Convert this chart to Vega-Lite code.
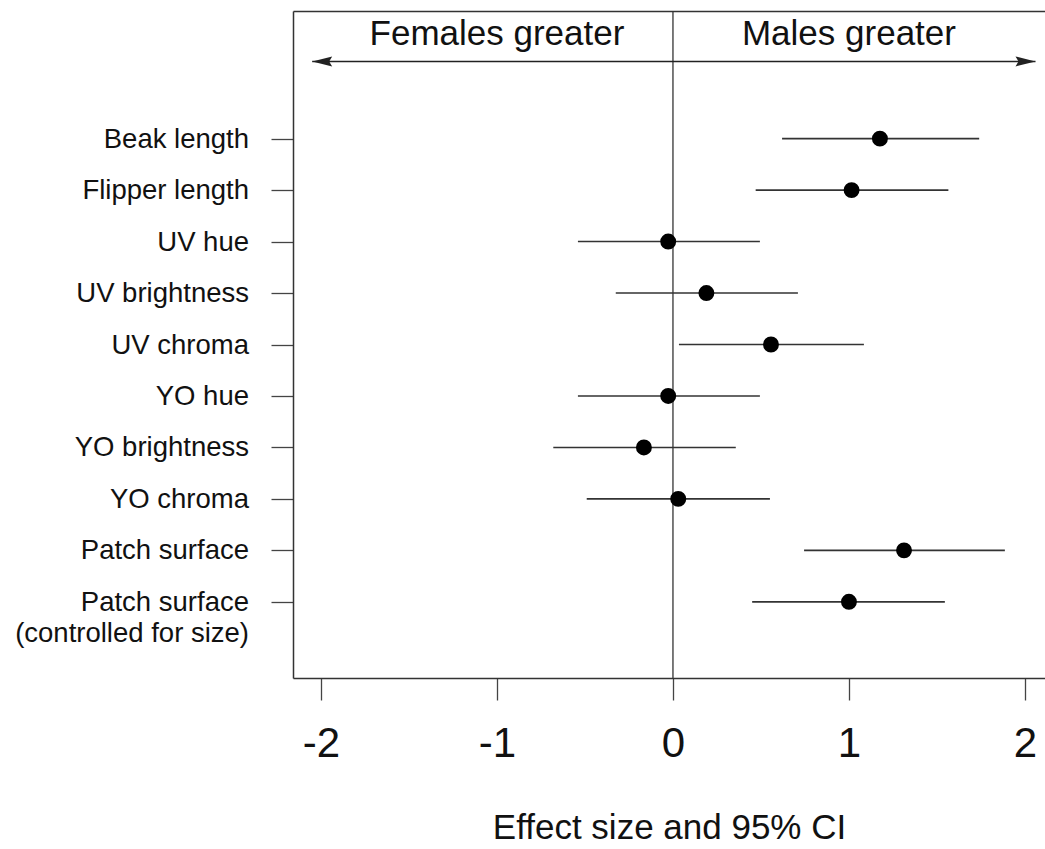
{
  "$schema": "https://vega.github.io/schema/vega-lite/v6.json",
  "autosize": {"type": "none"},
  "padding": {"left": 293, "top": 11, "right": 0, "bottom": 171},
  "width": 752,
  "height": 667,
  "background": "white",
  "config": {
    "view": {"stroke": null},
    "font": "Liberation Sans",
    "axis": {"grid": false}
  },
  "datasets": {
    "effects": [
      {"trait": "Beak length", "pos": 10, "est": 1.176, "lo": 0.62, "hi": 1.74},
      {"trait": "Flipper length", "pos": 9, "est": 1.015, "lo": 0.47, "hi": 1.565},
      {"trait": "UV hue", "pos": 8, "est": -0.027, "lo": -0.54, "hi": 0.494},
      {"trait": "UV brightness", "pos": 7, "est": 0.19, "lo": -0.325, "hi": 0.71},
      {"trait": "UV chroma", "pos": 6, "est": 0.557, "lo": 0.034, "hi": 1.085},
      {"trait": "YO hue", "pos": 5, "est": -0.027, "lo": -0.54, "hi": 0.494},
      {"trait": "YO brightness", "pos": 4, "est": -0.165, "lo": -0.68, "hi": 0.357},
      {"trait": "YO chroma", "pos": 3, "est": 0.03, "lo": -0.49, "hi": 0.551},
      {"trait": "Patch surface", "pos": 2, "est": 1.313, "lo": 0.745, "hi": 1.886},
      {"trait": "Patch surface\n(controlled for size)", "pos": 1, "est": 1.0, "lo": 0.45, "hi": 1.545}
    ],
    "headers": [
      {"text": "Females greater", "x": -1, "y": 11.82},
      {"text": "Males greater", "x": 1, "y": 11.82}
    ],
    "arrow": [{"from": -2.05, "to": 2.06, "y": 11.5}],
    "zero": [{"x0": 0}]
  },
  "resolve": {"axis": {"x": "independent", "y": "independent"}},
  "layer": [
    {
      "data": {"name": "zero"},
      "mark": {"type": "rule", "color": "#333", "strokeWidth": 1.3},
      "encoding": {
        "x": {
          "field": "x0", "type": "quantitative",
          "scale": {"domain": [-2.159, 2.114], "nice": false, "zero": false},
          "axis": {"orient": "top", "labels": false, "ticks": false, "title": null, "domainColor": "#333", "domainWidth": 1.5}
        }
      }
    },
    {
      "data": {"name": "effects"},
      "mark": {"type": "rule", "color": "#333", "strokeWidth": 1.6},
      "encoding": {
        "x": {
          "field": "lo", "type": "quantitative",
          "scale": {"domain": [-2.159, 2.114], "nice": false, "zero": false},
          "axis": {
            "orient": "bottom", "values": [-2, -1, 0, 1, 2],
            "labelExpr": "'' + datum.value",
            "tickSize": 22, "tickColor": "#444", "tickWidth": 1.3,
            "domainColor": "#333", "domainWidth": 1.5,
            "labelFontSize": 42, "labelColor": "#111", "labelPadding": 23, "labelFont": "Liberation Sans",
            "title": "Effect size and 95% CI", "titleFontSize": 35, "titleFontWeight": "normal",
            "titleColor": "#111", "titlePadding": 46, "titleFont": "Liberation Sans"
          }
        },
        "x2": {"field": "hi"},
        "y": {
          "field": "pos", "type": "quantitative",
          "scale": {"domain": [-0.48, 12.48], "nice": false, "zero": false},
          "axis": {
            "orient": "left", "values": [1, 2, 3, 4, 5, 6, 7, 8, 9, 10], "labels": false,
            "tickSize": 22, "tickColor": "#444", "tickWidth": 1.3,
            "domainColor": "#333", "domainWidth": 1.5, "title": null
          }
        }
      }
    },
    {
      "data": {"name": "effects"},
      "mark": {"type": "circle", "color": "black", "opacity": 1, "size": 254},
      "encoding": {
        "x": {"field": "est", "type": "quantitative", "axis": null},
        "y": {"field": "pos", "type": "quantitative", "axis": null}
      }
    },
    {
      "data": {"name": "effects"},
      "mark": {"type": "text", "align": "right", "baseline": "middle", "dx": -44, "dy": 1, "fontSize": 27.5, "lineBreak": "\n", "lineHeight": 31, "color": "#111", "font": "Liberation Sans"},
      "encoding": {
        "x": {"datum": -2.159, "type": "quantitative", "axis": null},
        "y": {"field": "pos", "type": "quantitative", "axis": null},
        "text": {"field": "trait"}
      }
    },
    {
      "data": {"name": "headers"},
      "mark": {"type": "text", "align": "center", "baseline": "alphabetic", "fontSize": 35, "color": "#111", "font": "Liberation Sans"},
      "encoding": {
        "x": {"field": "x", "type": "quantitative", "axis": null},
        "y": {"field": "y", "type": "quantitative", "axis": null},
        "text": {"field": "text"}
      }
    },
    {
      "data": {"name": "arrow"},
      "mark": {"type": "rule", "color": "#222", "strokeWidth": 1.5},
      "encoding": {
        "x": {"field": "from", "type": "quantitative", "axis": null},
        "x2": {"field": "to"},
        "y": {"field": "y", "type": "quantitative", "axis": null}
      }
    },
    {
      "data": {"name": "arrow"},
      "mark": {"type": "point", "filled": true, "opacity": 1, "color": "#222", "size": 400, "shape": "M0,0 L2,-0.5 L1.7,0 L2,0.5 Z"},
      "encoding": {
        "x": {"field": "from", "type": "quantitative", "axis": null},
        "y": {"field": "y", "type": "quantitative", "axis": null}
      }
    },
    {
      "data": {"name": "arrow"},
      "mark": {"type": "point", "filled": true, "opacity": 1, "color": "#222", "size": 400, "shape": "M0,0 L-2,-0.5 L-1.7,0 L-2,0.5 Z"},
      "encoding": {
        "x": {"field": "to", "type": "quantitative", "axis": null},
        "y": {"field": "y", "type": "quantitative", "axis": null}
      }
    }
  ]
}
